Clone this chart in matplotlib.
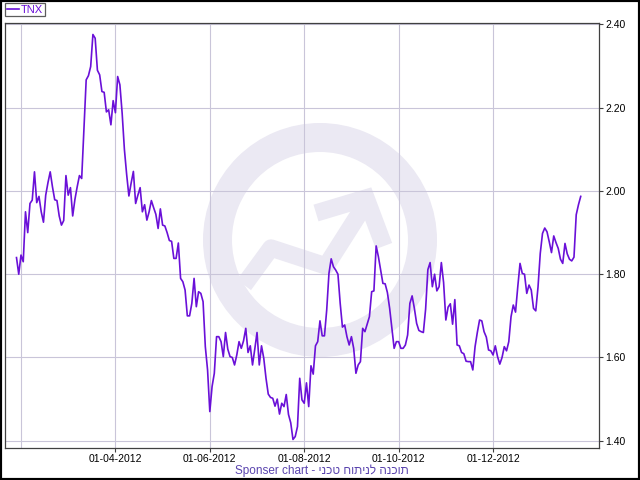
import matplotlib
matplotlib.use('Agg')
import matplotlib.pyplot as plt
from matplotlib.transforms import Affine2D
from matplotlib.patches import Wedge, Rectangle
from matplotlib.lines import Line2D

# ---- data (TNX daily closes, trading-day index) ----
values = [
    1.840, 1.800, 1.846, 1.830, 1.950, 1.900, 1.970, 1.978, 2.046, 1.972,
    1.987, 1.950, 1.925, 1.990, 2.020, 2.046, 2.010, 1.979, 1.977, 1.940,
    1.918, 1.929, 2.037, 1.990, 2.008, 1.940, 1.980, 2.010, 2.037, 2.030,
    2.150, 2.267, 2.277, 2.299, 2.376, 2.367, 2.290, 2.279, 2.239, 2.237,
    2.190, 2.195, 2.159, 2.217, 2.188, 2.275, 2.255, 2.187, 2.100, 2.040,
    1.988, 2.019, 2.047, 1.970, 1.990, 2.008, 1.950, 1.967, 1.930, 1.950,
    1.977, 1.960, 1.944, 1.910, 1.957, 1.918, 1.916, 1.900, 1.881, 1.879,
    1.838, 1.838, 1.875, 1.790, 1.782, 1.762, 1.700, 1.700, 1.730, 1.790,
    1.722, 1.758, 1.754, 1.734, 1.626, 1.570, 1.470, 1.530, 1.562, 1.650,
    1.650, 1.638, 1.602, 1.660, 1.620, 1.602, 1.600, 1.582, 1.606, 1.638,
    1.622, 1.640, 1.670, 1.612, 1.628, 1.582, 1.620, 1.660, 1.582, 1.628,
    1.598, 1.550, 1.512, 1.504, 1.502, 1.483, 1.500, 1.464, 1.490, 1.482,
    1.511, 1.463, 1.443, 1.403, 1.410, 1.434, 1.550, 1.498, 1.490, 1.539,
    1.482, 1.580, 1.560, 1.628, 1.638, 1.688, 1.652, 1.652, 1.714, 1.802,
    1.837, 1.818, 1.810, 1.800, 1.730, 1.673, 1.678, 1.650, 1.630, 1.650,
    1.622, 1.562, 1.582, 1.590, 1.670, 1.662, 1.680, 1.698, 1.758, 1.760,
    1.868, 1.842, 1.810, 1.778, 1.777, 1.756, 1.718, 1.670, 1.622, 1.638,
    1.638, 1.622, 1.622, 1.630, 1.654, 1.730, 1.748, 1.718, 1.682, 1.665,
    1.662, 1.660, 1.716, 1.811, 1.828, 1.770, 1.800, 1.760, 1.770, 1.828,
    1.780, 1.690, 1.721, 1.729, 1.680, 1.739, 1.630, 1.628, 1.612, 1.609,
    1.591, 1.590, 1.590, 1.570, 1.626, 1.660, 1.690, 1.688, 1.662, 1.649,
    1.618, 1.616, 1.606, 1.628, 1.602, 1.584, 1.600, 1.626, 1.616, 1.638,
    1.698, 1.726, 1.709, 1.770, 1.826, 1.802, 1.800, 1.754, 1.774, 1.762,
    1.718, 1.712, 1.769, 1.850, 1.898, 1.911, 1.902, 1.878, 1.852, 1.892,
    1.876, 1.862, 1.836, 1.826, 1.874, 1.849, 1.836, 1.832, 1.841, 1.943,
    1.967, 1.987,
]
series_name = 'TNX'
tick_pos = [44, 86, 128, 170, 212]
tick_labels = ['01-04-2012', '01-06-2012', '01-08-2012', '01-10-2012', '01-12-2012']
unlabeled_grid = [2]
y_ticks = [1.40, 1.60, 1.80, 2.00, 2.20, 2.40]
footer_latin = 'Sponser chart - '
footer_hebrew = 'תוכנה לניתוח טכני'

LINE = '#6a10d8'
GRID = '#c9c5d9'
SPINE = '#404040'
WM = '#ebe9f3'

plt.rcParams['font.family'] = ['Liberation Sans', 'DejaVu Sans']

W, H = 640, 480
fig = plt.figure(figsize=(6.4, 4.8), dpi=100)
fig.patch.set_facecolor('white')

L, R, T, B = 5.3, 598.7, 22.5, 448.0
ax = fig.add_axes([L / W, 1 - B / H, (R - L) / W, (B - T) / H])
ax.set_facecolor('white')

x = list(range(len(values)))
ax.plot(x, values, color=LINE, lw=1.2, zorder=3, label=series_name)

ax.set_xlim(-4.98, 259.0)
ax.set_ylim(1.3825, 2.4048)

ax.set_xticks(tick_pos)
ax.set_xticklabels(tick_labels)
ax.set_xticks(unlabeled_grid, minor=True)
ax.yaxis.tick_right()
ax.set_yticks(y_ticks)
ax.set_yticklabels([f'{v:.2f}' for v in y_ticks])
ax.grid(True, which='both', color=GRID, lw=0.8, zorder=1)
ax.tick_params(which='minor', length=0)
ax.tick_params(which='major', length=3, width=0.8, color=SPINE,
               labelsize=7.5, pad=1.5, labelcolor='black')
for s in ax.spines.values():
    s.set_color(SPINE)
    s.set_linewidth(0.9)

# watermark logo (pixel coordinates, y from top)
pix = Affine2D().scale(1, -1).translate(0, H)
ring = Wedge((320, 240), 117, 0, 360, width=29, transform=pix,
             facecolor=WM, edgecolor='none', zorder=0.5)
ax.add_patch(ring)
ring.set_clip_path(ax.patch)
trend = Line2D([244, 271, 326, 366], [285, 248, 266, 203], transform=pix,
               lw=12.5, color=WM, solid_joinstyle='round',
               solid_capstyle='butt', zorder=0.5)
ax.add_line(trend)
head = Line2D([316, 366, 384], [213, 198, 246], transform=pix,
              lw=12.5, color=WM, solid_joinstyle='miter',
              solid_capstyle='butt', zorder=0.5)
ax.add_line(head)

# legend
leg = fig.legend(loc='upper left', bbox_to_anchor=(5 / W, 1 - 3 / H),
                 borderaxespad=0, fontsize=8, frameon=True, fancybox=False,
                 edgecolor='#333333', handlelength=1.1, handletextpad=0.2,
                 borderpad=0.15, labelcolor=LINE)
leg.get_frame().set_linewidth(0.9)

# footer: the source chart shows the Hebrew glyphs in left-to-right order;
# the renderer reorders right-to-left runs, so feed it reversed to match.
fig.text(322 / W, 1 - 471 / H, footer_latin + footer_hebrew[::-1],
         ha='center', va='center', color='#5a44ae', fontsize=8.5)

# figure border
fig.add_artist(Rectangle((0, 0), 1, 1, transform=fig.transFigure,
                         fill=False, edgecolor='black', lw=3))

fig.savefig('out.png', dpi=100)
